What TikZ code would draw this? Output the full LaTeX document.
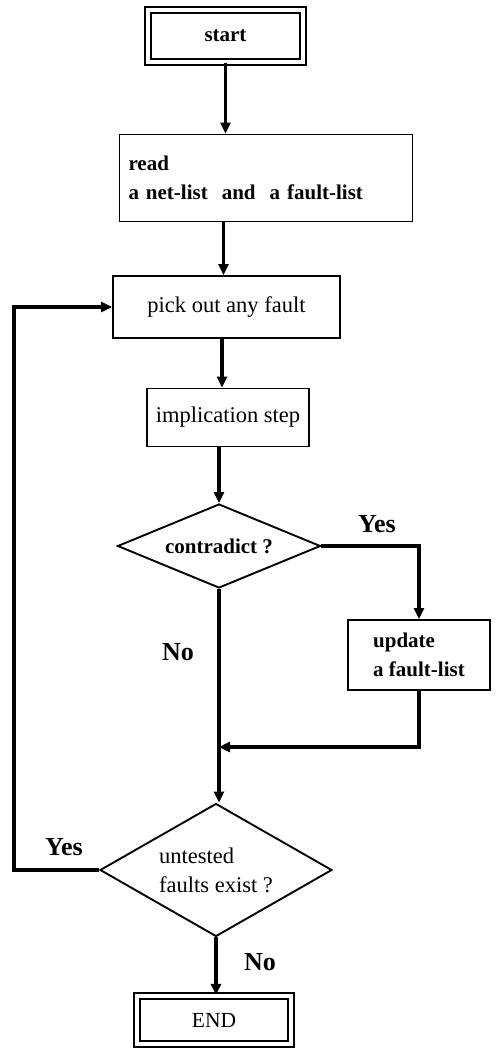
\documentclass[tikz,border=0pt]{standalone}
\usepackage{fontspec}
\setmainfont{Liberation Serif}
\usetikzlibrary{shapes.geometric,arrows.meta,calc}
\begin{document}
\begin{tikzpicture}[x=1pt,y=-1pt,
  txt/.style={font=\fontsize{22.5}{29}\selectfont},
  btxt/.style={font=\bfseries\fontsize{21}{29}\selectfont},
  box/.style={draw, line width=1.9pt, inner sep=0pt},
  term/.style={box, double, double distance=4.5pt},
  cond/.style={draw, diamond, line width=1.9pt, inner sep=0pt},
  arr/.style={line width=3.2pt, -{Triangle[length=11pt,width=10pt]}},
  lbl/.style={font=\bfseries\fontsize{26}{30}\selectfont}
]
\useasboundingbox (0,0) rectangle (499,1050);

% process boxes
\node[term, btxt, minimum width=155.3pt, minimum height=52.3pt] (start) at (225.5,36) {start};
\node[box, btxt, minimum width=293pt, minimum height=87pt, text width=275pt, align=left, inner xsep=9pt] (read) at (266,178)
  {read\\a net-list\ \ and\ \ a fault-list};
\node[box, txt, minimum width=227pt, minimum height=62pt] (pick) at (226.5,307) {pick out any fault};
\node[box, txt, minimum width=162pt, minimum height=58pt] (impl) at (228,417.5) {implication step};

% decisions
\node[cond, btxt, aspect=2.42, minimum width=203pt, minimum height=84pt] (d1) at (219,546) {contradict ?};
\node[box, btxt, minimum width=142pt, minimum height=70pt, align=left] (upd) at (419,655)
  {update\\a fault-list};
\node[cond, txt, aspect=1.74, minimum width=232pt, minimum height=133pt, align=left] (d2) at (216,870)
  {untested\\faults exist ?};

\node[term, font=\fontsize{21.5}{26}\selectfont, minimum width=154.3pt, minimum height=48.3pt] (end) at (214,1020) {END};

\coordinate (merge) at (219,747);

% connectors
\draw[arr] (start.south) -- (start.south |- read.north);
\draw[arr] ([xshift=-3pt]read.south -| pick.north) -- ([xshift=-3pt]pick.north);
\draw[arr] ([xshift=-4.5pt]pick.south) -- ([xshift=-4.5pt]pick.south |- impl.north);
\draw[arr] (impl.south -| d1.north) -- (d1.north);
\draw[arr] (d1.south) -- (d1.south |- d2.north);
\draw[arr] (d1.east) -| (upd.north);
\draw[arr] (upd.south) |- (merge);
\draw[arr] (d2.west) -- ++(-85,0) |- (pick.west);
\draw[arr] (d2.south) -- (d2.south |- end.north);

% branch labels
\node[lbl] (y1) at (377,524) {Yes};
\node[lbl] (n1) at (178,652) {No};
\node[lbl] (y2) at (64,847) {Yes};
\node[lbl] (n2) at (260,962) {No};
\end{tikzpicture}
\end{document}
